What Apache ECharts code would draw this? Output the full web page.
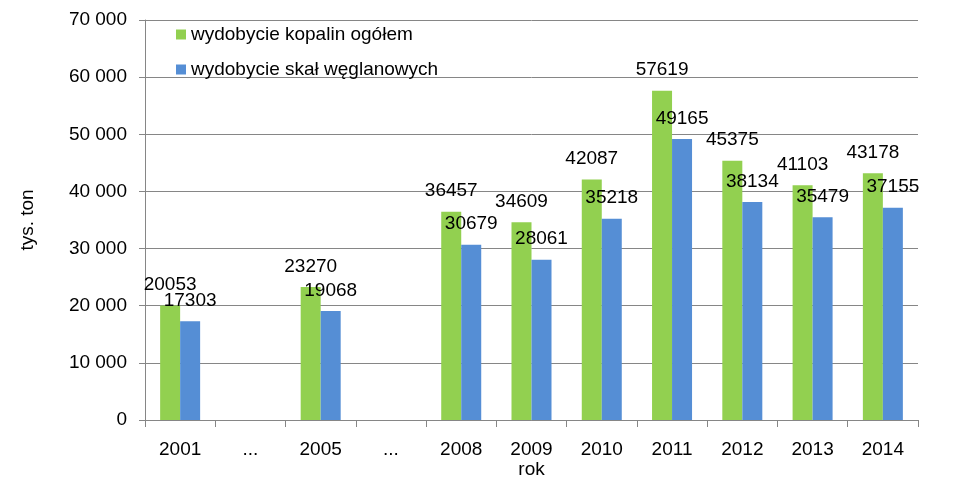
<!DOCTYPE html>
<html>
<head>
<meta charset="utf-8">
<script src="https://cdn.jsdelivr.net/npm/echarts@6/dist/echarts.min.js"></script>
<style>html,body{margin:0;padding:0;background:#fff}#c{width:980px;height:488px}</style>
</head>
<body>
<div id="c"></div>
<script>
const categories = ['2001', '...', '2005', '...', '2008', '2009', '2010', '2011', '2012', '2013', '2014'];
const seriesNames = ['wydobycie kopalin ogółem', 'wydobycie skał węglanowych'];
const kopaliny = [20053, null, 23270, null, 36457, 34609, 42087, 57619, 45375, 41103, 43178];
const skaly = [17303, null, 19068, null, 30679, 28061, 35218, 49165, 38134, 35479, 37155];
const yTicks = { min: 0, max: 70000, interval: 10000 };

const FONT = '"Liberation Sans", Arial, sans-serif';
const FS = 19;
const chart = echarts.init(document.getElementById('c'), null, { renderer: 'canvas' });
const labelCfg = {
  show: true, position: 'top', distance: 11,
  color: '#000', fontSize: FS, fontFamily: FONT
};
chart.setOption({
  animation: false,
  backgroundColor: '#fff',
  grid: { left: 145, right: 62, top: 20, bottom: 68, containLabel: false },
  legend: {
    orient: 'vertical', left: 171, top: 20,
    itemWidth: 10, itemHeight: 10, itemGap: 16, icon: 'rect',
    textStyle: { fontSize: FS, fontFamily: FONT, color: '#000' },
    data: seriesNames
  },
  xAxis: {
    type: 'category', data: categories,
    name: 'rok', nameLocation: 'middle', nameGap: 40, nameMoveOverlap: false,
    nameTextStyle: { fontSize: FS, fontFamily: FONT, color: '#000' },
    axisLine: { lineStyle: { color: '#868686', width: 1 } },
    axisTick: { show: true, length: 7, lineStyle: { color: '#868686' } },
    axisLabel: { fontSize: FS, fontFamily: FONT, color: '#000', margin: 20, interval: 0 }
  },
  yAxis: {
    type: 'value', min: yTicks.min, max: yTicks.max, interval: yTicks.interval,
    name: 'tys. ton', nameLocation: 'middle', nameGap: 108, nameRotate: 90,
    nameTextStyle: { fontSize: FS, fontFamily: FONT, color: '#000' },
    axisLine: { show: true, lineStyle: { color: '#868686', width: 1 } },
    axisTick: { show: true, length: 6, lineStyle: { color: '#868686' } },
    splitLine: { show: true, lineStyle: { color: '#868686', width: 1 } },
    axisLabel: {
      fontSize: FS, fontFamily: FONT, color: '#000', margin: 18,
      formatter: v => String(v).replace(/\B(?=(\d{3})+(?!\d))/g, ' ')
    }
  },
  series: [
    { name: seriesNames[0], type: 'bar', data: kopaliny, barWidth: 20, barGap: '0%',
      itemStyle: { color: '#92D050' }, label: labelCfg },
    { name: seriesNames[1], type: 'bar', data: skaly, barWidth: 20, barGap: '0%',
      itemStyle: { color: '#558ED5' }, label: labelCfg }
  ]
});
</script>
</body>
</html>
